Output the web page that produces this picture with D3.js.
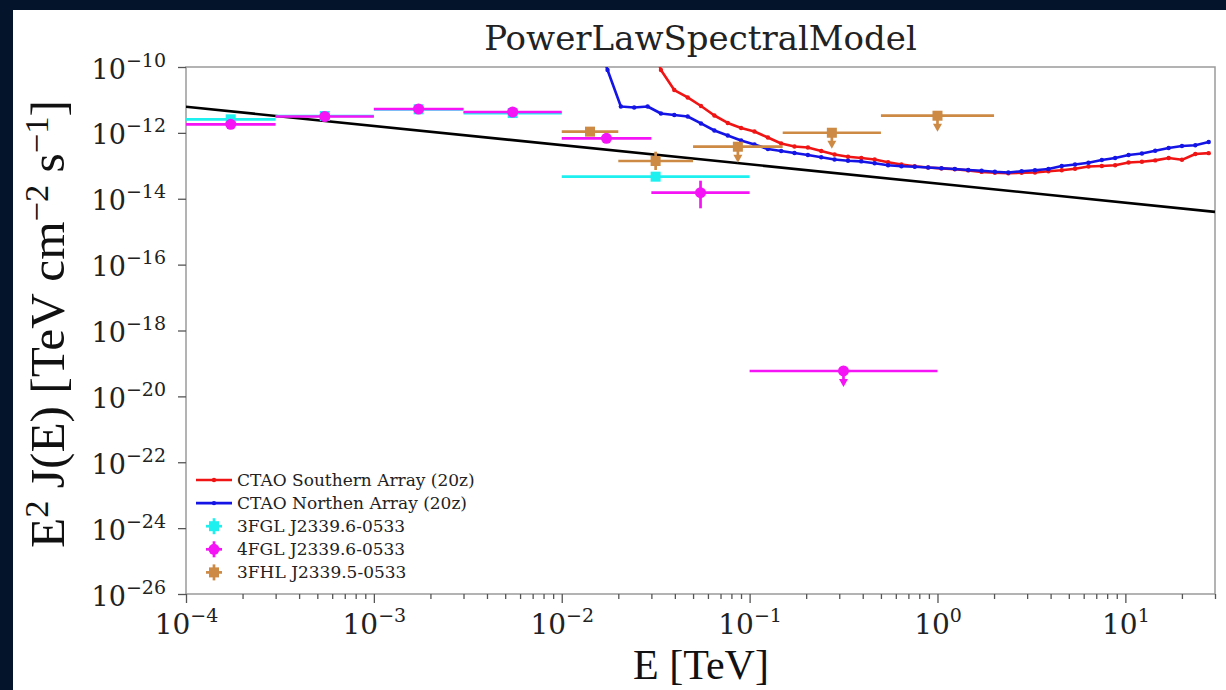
<!DOCTYPE html>
<html><head><meta charset="utf-8">
<script src="https://cdn.jsdelivr.net/npm/d3@7"></script>
<style>html,body{margin:0;padding:0;background:#03142b;}svg{display:block}</style>
</head><body>
<svg id="chart" width="1226" height="690"></svg>
<script>
// ---------- data ----------
const xMajorTicks = [1e-4, 1e-3, 1e-2, 1e-1, 1, 10];
const xTickExponents = ["\u22124", "\u22123", "\u22122", "\u22121", "0", "1"];
const yMajorTicks = [1e-10, 1e-12, 1e-14, 1e-16, 1e-18, 1e-20, 1e-22, 1e-24, 1e-26];
const yTickExponents = ["\u221210", "\u221212", "\u221214", "\u221216", "\u221218", "\u221220", "\u221222", "\u221224", "\u221226"];

// power-law model (straight line in log-log), endpoints
const modelE = [1e-4, 30];
const modelF = [6.2e-12, 4.0e-15];

// CTAO sensitivity curves (20 deg zenith)
const sensEnergy = [0.01487, 0.01753, 0.02064, 0.02430, 0.02865, 0.03373, 0.03972, 0.04682, 0.05511, 0.06493,
  0.07650, 0.09010, 0.1061, 0.1251, 0.1472, 0.1733, 0.2043, 0.2406, 0.2833, 0.3340,
  0.3933, 0.4630, 0.5459, 0.6427, 0.7568, 0.8921, 1.050, 1.237, 1.458, 1.717,
  2.021, 2.383, 2.805, 3.303, 3.894, 4.585, 5.398, 6.364, 7.494, 8.823,
  10.40, 12.25, 14.42, 17.00, 20.01, 23.57, 27.78];
const northF = [1.33e-9, 8.11e-11, 6.32e-12, 5.89e-12, 6.32e-12, 3.88e-12, 3.49e-12, 3.14e-12, 1.93e-12, 1.18e-12,
  8.32e-13, 5.87e-13, 4.44e-13, 3.24e-13, 2.82e-13, 2.45e-13, 2.13e-13, 1.82e-13, 1.55e-13, 1.42e-13,
  1.36e-13, 1.20e-13, 1.04e-13, 9.74e-14, 9.34e-14, 8.89e-14, 8.47e-14, 8.01e-14, 7.47e-14, 7.06e-14,
  6.58e-14, 6.27e-14, 6.87e-14, 7.36e-14, 8.01e-14, 9.87e-14, 1.10e-13, 1.24e-13, 1.50e-13, 1.73e-13,
  2.13e-13, 2.37e-13, 2.86e-13, 3.48e-13, 4.00e-13, 4.23e-13, 5.29e-13];
const southF = [null, null, null, null, 1.33e-9, 8.11e-11, 2.00e-11, 1.19e-11, 6.55e-12, 3.37e-12,
  2.00e-12, 1.41e-12, 1.10e-12, 7.24e-13, 4.76e-13, 3.86e-13, 3.60e-13, 2.82e-13, 2.21e-13, 1.88e-13,
  1.73e-13, 1.56e-13, 1.28e-13, 1.10e-13, 9.67e-14, 8.89e-14, 8.35e-14, 7.89e-14, 7.26e-14, 6.54e-14,
  6.14e-14, 5.97e-14, 6.18e-14, 6.27e-14, 6.87e-14, 7.36e-14, 8.17e-14, 9.53e-14, 9.87e-14, 1.04e-13,
  1.26e-13, 1.33e-13, 1.46e-13, 1.73e-13, 1.52e-13, 2.28e-13, 2.42e-13];

// 3FGL J2339.6-0533 flux points
const fgl3E = [1.73e-4, 5.48e-4, 1.73e-3, 5.48e-3, 3.16e-2];
const fgl3Emin = [1e-4, 3e-4, 1e-3, 3e-3, 1e-2];
const fgl3Emax = [3e-4, 1e-3, 3e-3, 1e-2, 1e-1];
const fgl3F = [2.58e-12, 3.25e-12, 5.2e-12, 4.0e-12, 4.68e-14];
const fgl3UL = [false, false, false, false, false];

// 4FGL J2339.6-0533 flux points
const fgl4E = [1.73e-4, 5.48e-4, 1.73e-3, 5.48e-3, 1.73e-2, 5.48e-2, 0.316];
const fgl4Emin = [1e-4, 3e-4, 1e-3, 3e-3, 1e-2, 3e-2, 0.1];
const fgl4Emax = [3e-4, 1e-3, 3e-3, 1e-2, 3e-2, 0.1, 1.0];
const fgl4F = [1.82e-12, 3.14e-12, 5.31e-12, 4.30e-12, 6.84e-13, 1.53e-14, 5.9e-20];
const fgl4Flo = [null, null, null, null, null, 5.13e-15, null];
const fgl4Fhi = [null, null, null, null, null, 3.53e-14, null];
const fgl4UL = [false, false, false, false, false, false, true];

// 3FHL J2339.5-0533 flux points
const fhl3E = [0.01414, 0.0316, 0.0866, 0.274, 1.0];
const fhl3Emin = [0.01, 0.02, 0.05, 0.15, 0.5];
const fhl3Emax = [0.02, 0.05, 0.15, 0.5, 2.0];
const fhl3F = [1.09e-12, 1.40e-13, 3.80e-13, 1.01e-12, 3.32e-12];
const fhl3Flo = [null, 7.47e-14, null, null, null];
const fhl3Fhi = [null, 2.68e-13, null, null, null];
const fhl3UL = [false, false, true, true, true];

const legendLabels = ["CTAO Southern Array (20z)", "CTAO Northen Array (20z)",
  "3FGL J2339.6-0533", "4FGL J2339.6-0533", "3FHL J2339.5-0533"];

// ---------- styles ----------
const C_RED = "#f01414", C_BLUE = "#1414e6", C_CYAN = "#1ef0f0", C_MAG = "#f514f5", C_BRN = "#cd8a45";
const SERIF = "'DejaVu Serif', serif";
const TIMES = "'Liberation Serif', 'Times New Roman', serif";
const L = 186, R = 1215, T = 67, B = 594;

const svg = d3.select("#chart");
svg.append("rect").attr("x", 13).attr("y", 10).attr("width", 1213).attr("height", 680).attr("fill", "#ffffff");

const x = d3.scaleLog().domain([1e-4, 30]).range([L, R]);
const y = d3.scaleLog().domain([1e-26, 1e-10]).range([B, T]);

svg.append("defs").append("clipPath").attr("id", "clip")
  .append("rect").attr("x", L).attr("y", T).attr("width", R - L).attr("height", B - T);

// frame
svg.append("rect").attr("x", L).attr("y", T).attr("width", R - L).attr("height", B - T)
  .attr("fill", "none").attr("stroke", "#9a9a9a").attr("stroke-width", 1.5);

// x axis
const xMinor = x.ticks().filter(v => !xMajorTicks.some(m => Math.abs(Math.log10(m) - Math.log10(v)) < 1e-6));
const gxMinor = svg.append("g").attr("transform", `translate(0,${B})`)
  .call(d3.axisBottom(x).tickValues(xMinor).tickSize(5).tickFormat(() => ""));
const gx = svg.append("g").attr("transform", `translate(0,${B})`)
  .call(d3.axisBottom(x).tickValues(xMajorTicks).tickSize(9).tickFormat(() => ""));
[gxMinor, gx].forEach(g => { g.select(".domain").remove(); g.selectAll("line").attr("stroke", "#555").attr("stroke-width", 1.3); });
gx.selectAll(".tick").each(function (d, i) {
  const t = d3.select(this).append("text").attr("y", 40).attr("fill", "#222")
    .attr("text-anchor", "middle").attr("font-family", SERIF).attr("font-size", 28);
  t.append("tspan").text("10");
  t.append("tspan").attr("font-size", 19).attr("dy", -12).text(xTickExponents[i]);
});

// y axis
const gy = svg.append("g").attr("transform", `translate(${L},0)`)
  .call(d3.axisLeft(y).tickValues(yMajorTicks).tickSize(8).tickFormat(() => ""));
gy.select(".domain").remove();
gy.selectAll("line").attr("stroke", "#555").attr("stroke-width", 1.3);
gy.selectAll(".tick").each(function (d, i) {
  const t = d3.select(this).append("text").attr("x", -20).attr("y", 11).attr("fill", "#222")
    .attr("text-anchor", "end").attr("font-family", SERIF).attr("font-size", 27);
  t.append("tspan").text("10");
  t.append("tspan").attr("font-size", 19).attr("dy", -12).text(yTickExponents[i]);
});

// title
svg.append("text").attr("x", (L + R) / 2).attr("y", 50).attr("text-anchor", "middle")
  .attr("font-family", SERIF).attr("font-size", 34).attr("fill", "#222").text("PowerLawSpectralModel");

// axis labels
function fitText(t, target) {
  const len = t.node().getComputedTextLength();
  const fs = +t.attr("font-size");
  t.attr("font-size", fs * target / len);
}
const xl = svg.append("text").attr("x", 701).attr("y", 679).attr("text-anchor", "middle")
  .attr("font-family", TIMES).attr("font-size", 42).attr("fill", "#111").text("E [TeV]");
fitText(xl, 136);

const yl = svg.append("text").attr("transform", "translate(64,324) rotate(-90)").attr("text-anchor", "middle")
  .attr("font-family", TIMES).attr("font-size", 42).attr("fill", "#111");
yl.append("tspan").text("E");
yl.append("tspan").attr("font-size", "0.7em").attr("dy", "-0.45em").text("2");
yl.append("tspan").attr("dy", "0.315em").text(" J(E) [TeV cm");
yl.append("tspan").attr("font-size", "0.7em").attr("dy", "-0.45em").text("\u22122");
yl.append("tspan").attr("dy", "0.315em").text(" s");
yl.append("tspan").attr("font-size", "0.7em").attr("dy", "-0.45em").text("\u22121");
yl.append("tspan").attr("dy", "0.315em").text("]");
fitText(yl, 448);

// plot layer
const plot = svg.append("g").attr("clip-path", "url(#clip)");

function sensCurve(F, color) {
  const pts = sensEnergy.map((e, i) => ({ e, f: F[i] })).filter(d => d.f != null);
  plot.append("path").datum(pts)
    .attr("d", d3.line().x(d => x(d.e)).y(d => y(d.f)))
    .attr("fill", "none").attr("stroke", color).attr("stroke-width", 2.6).attr("stroke-linejoin", "round");
  plot.selectAll(null).data(pts).join("circle")
    .attr("cx", d => x(d.e)).attr("cy", d => y(d.f)).attr("r", 2.2).attr("fill", color);
}
sensCurve(southF, C_RED);
sensCurve(northF, C_BLUE);

// power-law model
plot.append("path").datum(modelE.map((e, i) => ({ e, f: modelF[i] })))
  .attr("d", d3.line().x(d => x(d.e)).y(d => y(d.f)))
  .attr("fill", "none").attr("stroke", "#000").attr("stroke-width", 2.6);

function fluxPoints(E, Emin, Emax, F, Flo, Fhi, UL, color, shape) {
  const pts = E.map((e, i) => ({ e, lo: Emin[i], hi: Emax[i], f: F[i], flo: Flo ? Flo[i] : null, fhi: Fhi ? Fhi[i] : null, ul: UL[i] }));
  const g = plot.append("g");
  g.selectAll(".h").data(pts).join("line")
    .attr("x1", d => x(d.lo)).attr("x2", d => x(d.hi)).attr("y1", d => y(d.f)).attr("y2", d => y(d.f))
    .attr("stroke", color).attr("stroke-width", 2.7);
  g.selectAll(".v").data(pts.filter(d => d.flo != null)).join("line")
    .attr("x1", d => x(d.e)).attr("x2", d => x(d.e)).attr("y1", d => y(d.flo)).attr("y2", d => y(d.fhi))
    .attr("stroke", color).attr("stroke-width", 2.7);
  const ul = pts.filter(d => d.ul);
  g.selectAll(".ul").data(ul).join("line")
    .attr("x1", d => x(d.e)).attr("x2", d => x(d.e)).attr("y1", d => y(d.f)).attr("y2", d => y(d.f) + 10)
    .attr("stroke", color).attr("stroke-width", 2.7);
  g.selectAll(".ah").data(ul).join("path")
    .attr("d", d => { const cx = x(d.e), cy = y(d.f); return `M${cx - 4.5},${cy + 8}L${cx + 4.5},${cy + 8}L${cx},${cy + 16}Z`; })
    .attr("fill", color);
  if (shape === "circle") {
    g.selectAll(".m").data(pts).join("circle").attr("cx", d => x(d.e)).attr("cy", d => y(d.f)).attr("r", 5.5).attr("fill", color);
  } else {
    g.selectAll(".m").data(pts).join("rect").attr("x", d => x(d.e) - 5).attr("y", d => y(d.f) - 5)
      .attr("width", 10).attr("height", 10).attr("fill", color);
  }
}
fluxPoints(fgl3E, fgl3Emin, fgl3Emax, fgl3F, null, null, fgl3UL, C_CYAN, "square");
fluxPoints(fgl4E, fgl4Emin, fgl4Emax, fgl4F, fgl4Flo, fgl4Fhi, fgl4UL, C_MAG, "circle");
fluxPoints(fhl3E, fhl3Emin, fhl3Emax, fhl3F, fhl3Flo, fhl3Fhi, fhl3UL, C_BRN, "square");

// legend
const legendColors = [C_RED, C_BLUE, C_CYAN, C_MAG, C_BRN];
const legendKinds = ["line", "line", "square", "circle", "square"];
const lg = svg.append("g");
legendLabels.forEach((lab, i) => {
  const cy = 480 + i * 23.1;
  const c = legendColors[i];
  if (legendKinds[i] === "line") {
    lg.append("line").attr("x1", 196).attr("x2", 232).attr("y1", cy).attr("y2", cy).attr("stroke", c).attr("stroke-width", 2.6);
    lg.append("circle").attr("cx", 214).attr("cy", cy).attr("r", 2.2).attr("fill", c);
  } else {
    lg.append("line").attr("x1", 206).attr("x2", 222).attr("y1", cy).attr("y2", cy).attr("stroke", c).attr("stroke-width", 2.7);
    lg.append("line").attr("x1", 214).attr("x2", 214).attr("y1", cy - 8).attr("y2", cy + 8).attr("stroke", c).attr("stroke-width", 2.7);
    if (legendKinds[i] === "circle") lg.append("circle").attr("cx", 214).attr("cy", cy).attr("r", 5.5).attr("fill", c);
    else lg.append("rect").attr("x", 209).attr("y", cy - 5).attr("width", 10).attr("height", 10).attr("fill", c);
  }
  lg.append("text").attr("x", 237).attr("y", cy + 6).attr("font-family", SERIF).attr("font-size", 17)
    .attr("fill", "#222").text(lab);
});
</script>
</body></html>
